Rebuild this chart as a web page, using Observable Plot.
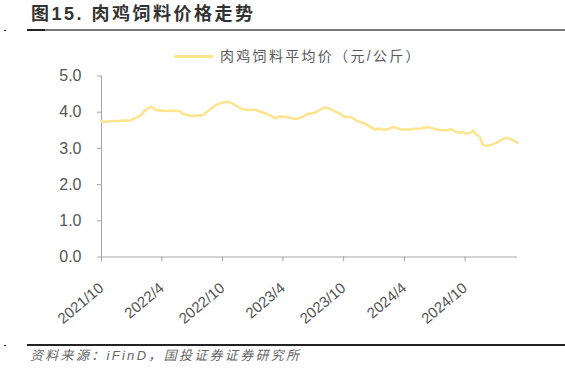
<!DOCTYPE html>
<html>
<head>
<meta charset="utf-8">
<script src="https://cdn.jsdelivr.net/npm/d3@7"></script>
<script src="https://cdn.jsdelivr.net/npm/@observablehq/plot@0.6"></script>
<style>
  html, body { margin: 0; padding: 0; background: #fff; }
  #wrap { position: relative; width: 565px; height: 370px; overflow: hidden; background: #fff; }
  #chart { position: absolute; left: 0; top: 0; }
  .abs { position: absolute; white-space: nowrap; }
  #title { left: 31px; top: 5px; font: bold 18px/18px "Liberation Sans", "Noto Sans CJK SC", sans-serif; letter-spacing: 2.5px; color: #333; }
  #legtext { left: 220px; top: 49px; font: 14px/14px "Liberation Sans", "Noto Sans CJK SC", sans-serif; letter-spacing: 2.3px; color: #595959; }
  #caption { left: 30px; top: 349px; font: italic 13px/13px "Liberation Sans", "Noto Sans CJK SC", sans-serif; letter-spacing: 2.3px; color: #666; }
</style>
</head>
<body>
<div id="wrap">
  <div id="chart"></div>
  <div class="abs" style="left:27px;top:29px;width:538px;height:2px;background:#777"></div>
  <div class="abs" style="left:27px;top:29px;width:18px;height:2px;background:#222"></div>
  <div class="abs" style="left:4px;top:30px;width:2px;height:1px;background:#333"></div>
  <div class="abs" id="title">图15. 肉鸡饲料价格走势</div>
  <div class="abs" style="left:174px;top:55px;width:39px;height:3px;background:#FFE38D"></div>
  <div class="abs" id="legtext">肉鸡饲料平均价（元/公斤）</div>
  <div class="abs" style="left:27px;top:344px;width:538px;height:2px;background:#222"></div>
  <div class="abs" style="left:4px;top:345px;width:2px;height:1px;background:#333"></div>
  <div class="abs" id="caption">资料来源：iFinD，国投证券证券研究所</div>
</div>
<script>
const seriesName = "肉鸡饲料平均价（元/公斤）";
const dates = [
  "2021-10-01","2021-10-12","2021-11-02","2021-11-22","2021-12-12","2021-12-27",
  "2022-01-12","2022-01-27","2022-02-06","2022-02-19","2022-03-01","2022-03-06",
  "2022-03-13","2022-04-01","2022-04-16","2022-04-26","2022-05-26","2022-06-03",
  "2022-06-16","2022-07-01","2022-07-16","2022-08-01","2022-08-16","2022-08-24",
  "2022-09-07","2022-09-27","2022-10-14","2022-10-27","2022-11-11","2022-11-29",
  "2022-12-16","2023-01-06","2023-01-21","2023-02-10","2023-02-24","2023-03-09",
  "2023-03-21","2023-04-11","2023-04-26","2023-05-11","2023-06-01","2023-06-16",
  "2023-06-26","2023-07-10","2023-07-23","2023-08-05","2023-08-17","2023-08-31",
  "2023-09-15","2023-10-05","2023-10-23","2023-11-05","2023-11-15","2023-11-30",
  "2023-12-15","2024-01-03","2024-01-15","2024-01-30","2024-02-12","2024-02-26",
  "2024-03-09","2024-03-22","2024-04-14","2024-05-04","2024-05-22","2024-06-09",
  "2024-06-24","2024-07-09","2024-07-24","2024-08-09","2024-08-22","2024-09-01",
  "2024-09-14","2024-09-24","2024-10-04","2024-10-14","2024-10-25","2024-11-03",
  "2024-11-14","2024-11-21","2024-11-27","2024-12-09","2024-12-24","2025-01-08",
  "2025-01-23","2025-02-03","2025-02-16","2025-02-28","2025-03-08"
];
const values = [
  3.74,3.73,3.76,3.76,3.77,3.77,
  3.84,3.91,4.02,4.12,4.15,4.12,
  4.06,4.05,4.03,4.04,4.03,3.95,
  3.93,3.89,3.91,3.91,4.02,4.07,
  4.18,4.26,4.29,4.26,4.18,4.09,
  4.06,4.07,4.02,3.96,3.90,3.83,
  3.88,3.87,3.84,3.81,3.88,3.96,
  3.96,4.00,4.07,4.13,4.11,4.04,
  3.98,3.87,3.87,3.79,3.74,3.70,
  3.63,3.52,3.55,3.51,3.53,3.59,
  3.57,3.52,3.52,3.54,3.55,3.59,
  3.56,3.52,3.50,3.51,3.53,3.47,
  3.43,3.45,3.41,3.42,3.49,3.39,
  3.33,3.14,3.08,3.07,3.12,3.17,
  3.26,3.29,3.26,3.19,3.15
];
const yTicks = [0, 1, 2, 3, 4, 5];
const xTickLabels = ["2021/10","2022/4","2022/10","2023/4","2023/10","2024/4","2024/10"];
const xStart = "2021-10-01";
const xEnd = "2025-03-08";

const data = dates.map((d, i) => ({date: new Date(d), value: values[i]}));
const xTicks = xTickLabels.map(s => { const [y, m] = s.split("/").map(Number); return new Date(Date.UTC(y, m - 1, 1)); });
const labelOf = d => xTickLabels[xTicks.findIndex(t => +t === +d)];

const chart = Plot.plot({
  width: 565,
  height: 370,
  marginTop: 75.5,
  marginBottom: 113.5,
  marginLeft: 101,
  marginRight: 48,
  style: {fontFamily: "'Liberation Sans', Arial, sans-serif", background: "transparent"},
  x: {type: "utc", domain: [new Date(xStart), new Date(xEnd)], label: null},
  y: {domain: [0, 5], label: null},
  marks: [
    Plot.ruleY([0], {stroke: "#a6a6a6", strokeWidth: 1}),
    Plot.ruleX([new Date(xStart)], {stroke: "#a6a6a6", strokeWidth: 1}),
    Plot.axisY({ticks: yTicks, tickFormat: d => d.toFixed(1), tickSize: 4, tickPadding: 16, fontSize: 16, fill: "#555", stroke: "#a6a6a6", label: null, style: "letter-spacing:2.5px"}),
    Plot.axisX({ticks: xTicks, tickFormat: labelOf, tickRotate: -40, tickSize: 5, tickPadding: 24, dx: 0, fontSize: 15, fill: "#555", stroke: "#a6a6a6", label: null, style: "letter-spacing:0.4px"}),
    Plot.line(data, {x: "date", y: "value", stroke: "#FFE38D", strokeWidth: 2.5, curve: "linear"})
  ]
});
document.getElementById("chart").appendChild(chart);
</script>
</body>
</html>
